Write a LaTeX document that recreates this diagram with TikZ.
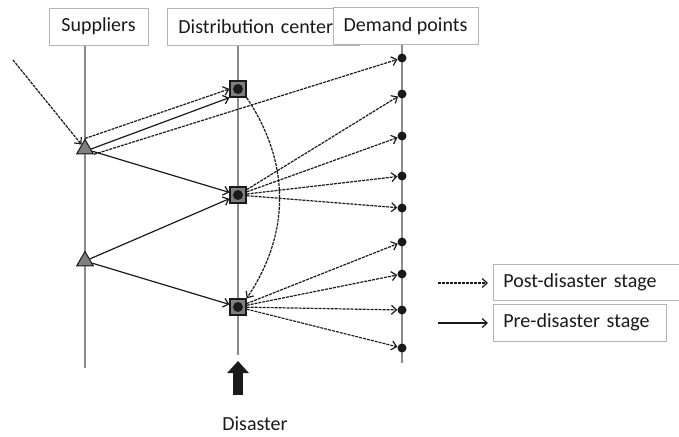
\documentclass[tikz,border=0pt]{standalone}
\usepackage{fontspec}
\setmainfont{Carlito}
\usetikzlibrary{arrows.meta,shapes.geometric}
\definecolor{ink}{HTML}{1A1A1A}
\definecolor{axis}{HTML}{8C8C8C}
\definecolor{boxline}{HTML}{B4B4B4}
\definecolor{shade}{HTML}{7F7F7F}
\begin{document}
\begin{tikzpicture}[x=1pt,y=-1pt,
  lbl/.style={draw=boxline,line width=0.8pt,fill=white,text=ink,
    font=\fontsize{20}{23}\selectfont,inner sep=0pt,minimum height=37pt},
  axisline/.style={draw=axis,line width=1.6pt},
  tipstyle/.style={-{Straight Barb[length=5pt,width=9pt]}},
  pre/.style={draw=ink,line width=1.2pt,tipstyle},
  post/.style={draw=ink,line width=1.2pt,dash pattern=on 3pt off 1pt,tipstyle},
  supnode/.style={regular polygon,regular polygon sides=3,minimum size=19pt,
    inner sep=0pt,fill=shade,draw=ink,line width=1pt},
  dcnode/.style={rectangle,minimum size=16pt,inner sep=0pt,fill=shade,
    draw=ink,line width=1.3pt},
  dpnode/.style={circle,minimum size=9pt,inner sep=0pt,fill=ink}]
\useasboundingbox (0,0) rectangle (679,436);

% vertical axes
\coordinate (sTop) at (85,45);   \coordinate (sBot) at (85,368);
\coordinate (dTop) at (238,45);  \coordinate (dBot) at (238,355);
\coordinate (pTop) at (402,44);  \coordinate (pBot) at (402,363);
\draw[axisline] (sTop) -- (sBot);
\draw[axisline] (dTop) -- (dBot);
\draw[axisline] (pTop) -- (pBot);

% header boxes
\node[lbl,minimum width=99pt] (supbox) at (98.5,26.5) {Suppliers};
\node[lbl,anchor=west,text width=170pt,inner xsep=11pt,align=left] (dcbox) at (167,26.5) {Distribution centers};
\node[lbl,minimum width=145pt] (dpbox) at (405.5,26) {Demand points};

% suppliers
\node[supnode] (s1) at (85,149) {};
\node[supnode] (s2) at (85,261) {};

% distribution centers
\node[dcnode] (d1) at (238,89) {};
\node[dcnode] (d2) at (238,195) {};
\node[dcnode] (d3) at (238,307) {};
\foreach \d in {d1,d2,d3} \fill[ink] (\d.center) circle (5pt);

% demand points
\foreach \i/\y in {1/58,2/94,3/136,4/176,5/208,6/242,7/274,8/310,9/348}
  \node[dpnode] (p\i) at (402,\y) {};

% incoming flow
\coordinate (inc) at (13,60);
\draw[post] (inc) -- (s1);

% supplier flows
\draw[post] (s1.corner 1) -- (d1.west);
\draw[pre] (s1.east) -- (d1.south west);
\draw[post] (s1.corner 3) -- (p1);
\draw[pre] (s1) -- (d2);
\draw[pre] (s2) -- (d2);
\draw[pre] (s2) -- (d3);

% DC to demand
\foreach \p in {p2,p3,p4,p5} \draw[post] (d2) -- (\p);
\foreach \p in {p6,p7,p8,p9} \draw[post] (d3) -- (\p);

% lateral transfer
\draw[post] (d1.south east) to[bend left=34] (d3.north east);

% disaster arrow
\coordinate (disA) at (238,395);
\coordinate (disB) at (238,361);
\draw[ink,line width=10pt,-{Triangle[length=12pt,width=21pt]}] (disA) -- (disB);
\node[text=ink,font=\fontsize{20}{23}\selectfont,inner sep=0pt] (dis) at (255,424) {Disaster};

% legend
\node[lbl,anchor=west,minimum width=185pt,text width=175pt,inner xsep=10pt,align=left,minimum height=36pt] (postbox) at (493,282) {Post-disaster stage};
\node[lbl,anchor=west,minimum width=163pt,text width=153pt,inner xsep=10pt,align=left] (prebox) at (493,322.5) {Pre-disaster stage};
\coordinate (lp) at (438,283);
\coordinate (lq) at (438,323);
\draw[post,shorten >=5pt] (lp) -- (lp -| postbox.west);
\draw[pre,shorten >=5pt] (lq) -- (lq -| prebox.west);
\end{tikzpicture}
\end{document}
